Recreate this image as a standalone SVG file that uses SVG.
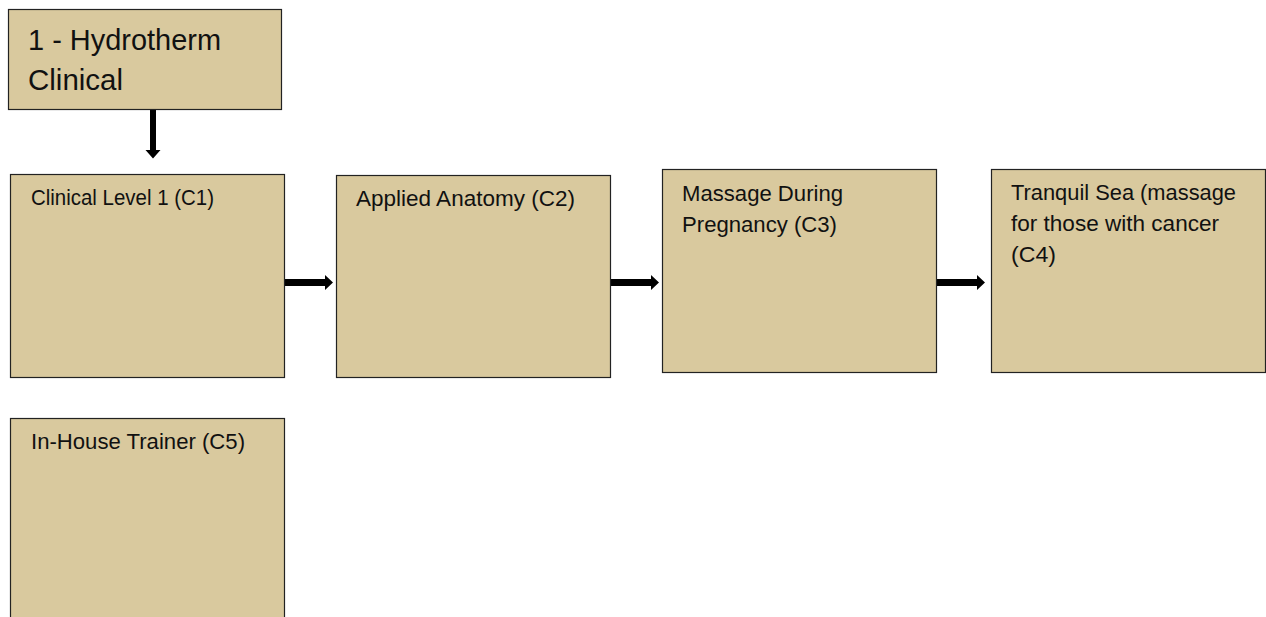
<svg xmlns="http://www.w3.org/2000/svg" width="1266" height="617" viewBox="0 0 1266 617">
<style>
.box{fill:#D9C99E;stroke:#222;stroke-width:1.2}
.t{font-family:"Liberation Sans",Arial,sans-serif;font-size:21.5px;fill:#111}
.big{font-size:29px}
.arr{fill:#000}
</style>
<rect width="1266" height="617" fill="#fff"/>
<g id="connectors">
<polygon class="arr" points="150,110 156,110 156,150 160.5,150 153,158.5 145.5,150 150,150"/>
<polygon class="arr" points="285,279 325,279 325,275 333,282.5 325,290 325,286 285,286"/>
<polygon class="arr" points="611,279 651,279 651,275 659,282.5 651,290 651,286 611,286"/>
<polygon class="arr" points="937,279 977,279 977,275 985,282.5 977,290 977,286 937,286"/>
</g>
<g id="n0"><rect class="box" x="8.5" y="9.5" width="273" height="100"/>
<text class="t big" x="28" y="50" textLength="193" lengthAdjust="spacingAndGlyphs">1 - Hydrotherm</text><text class="t big" x="28" y="90" textLength="95" lengthAdjust="spacingAndGlyphs">Clinical</text></g>
<g id="c1"><rect class="box" x="10.5" y="174.5" width="274" height="203"/>
<text class="t" x="31" y="205" textLength="183" lengthAdjust="spacingAndGlyphs">Clinical Level 1 (C1)</text></g>
<g id="c2"><rect class="box" x="336.5" y="175.5" width="274" height="202"/>
<text class="t" x="356" y="206" textLength="219" lengthAdjust="spacingAndGlyphs">Applied Anatomy (C2)</text></g>
<g id="c3"><rect class="box" x="662.5" y="169.5" width="274" height="203"/>
<text class="t" x="682" y="201" textLength="161" lengthAdjust="spacingAndGlyphs">Massage During</text><text class="t" x="682" y="232" textLength="155" lengthAdjust="spacingAndGlyphs">Pregnancy (C3)</text></g>
<g id="c4"><rect class="box" x="991.5" y="169.5" width="274" height="203"/>
<text class="t" x="1011" y="200" textLength="225" lengthAdjust="spacingAndGlyphs">Tranquil Sea (massage</text><text class="t" x="1011" y="231" textLength="208" lengthAdjust="spacingAndGlyphs">for those with cancer</text><text class="t" x="1011" y="262" textLength="45" lengthAdjust="spacingAndGlyphs">(C4)</text></g>
<g id="c5"><rect class="box" x="10.5" y="418.5" width="274" height="210"/>
<text class="t" x="31" y="449" textLength="214" lengthAdjust="spacingAndGlyphs">In-House Trainer (C5)</text></g>
</svg>
